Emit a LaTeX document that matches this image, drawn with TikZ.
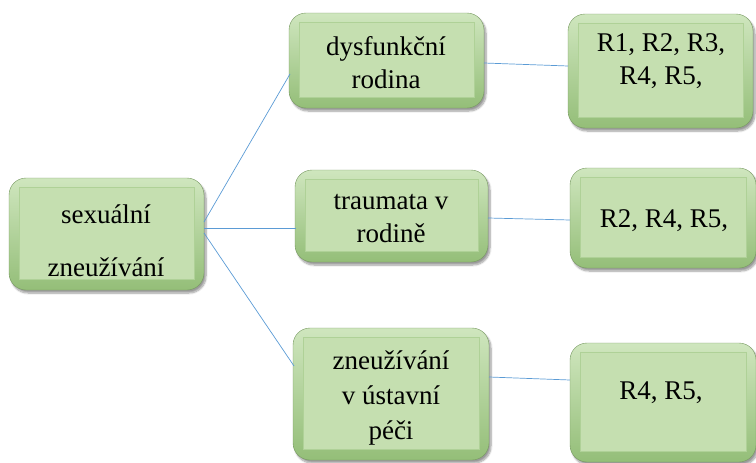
\documentclass[tikz,border=0pt]{standalone}
\usepackage{fontspec}
\setmainfont{Liberation Serif}
\usetikzlibrary{shadows.blur}
\definecolor{bevel}{HTML}{94BE78}
\definecolor{bevellight}{HTML}{CFE6BE}
\definecolor{face}{HTML}{C5DFB0}
\definecolor{faceline}{HTML}{AFD197}
\definecolor{link}{HTML}{5B9BD5}
\tikzset{
  gbox/.style={rounded corners=17pt, draw=bevel!80!black, line width=0.4pt,
    top color=bevellight, bottom color=bevel,
    blur shadow={shadow xshift=2pt, shadow yshift=-3pt, shadow blur steps=8, shadow opacity=40}},
  facebox/.style={fill=face, draw=faceline, line width=0.8pt},
  lbl/.style={font=\fontsize{27}{33}\selectfont, align=center, text=black},
  link/.style={draw=link, line width=0.7pt}
}
\newcommand{\gbox}[5]{% name, x1, y1, x2, y2
  \path[gbox] (#2,#3) rectangle (#4,#5);
  \path[facebox] (#2+10,#3+9) rectangle (#4-10,#5-11);
  \coordinate (#1-w) at (#2,{(#3+#5)/2});
  \coordinate (#1-e) at (#4,{(#3+#5)/2});
  \coordinate (#1) at ({(#2+#4)/2},{(#3+#5)/2});
}
\begin{document}
\begin{tikzpicture}[x=1pt,y=-1pt]
\useasboundingbox (0,0) rectangle (756,463);
% boxes
\gbox{root}{9}{178}{204}{290}
\gbox{dys}{289}{13}{484}{108}
\gbox{tra}{295}{170}{488}{262}
\gbox{ust}{293}{328}{489}{460}
\gbox{ra}{568}{14}{753}{128}
\gbox{rb}{570}{168}{756}{268}
\gbox{rc}{570}{343}{756}{462}
% labels
\node[lbl] (t-root1) at (106,214) {sexuální};
\node[lbl] (t-root2) at (106,267) {zneužívání};
\node[lbl] (t-dys) at (386,63) {dysfunkční\\rodina};
\node[lbl] (t-tra) at (391,219) {traumata v\\rodině};
\node[lbl] (t-ust) at (391,398) {zneužívání\\[2pt]v ústavní\\[2pt]péči};
\node[lbl] (t-ra) at (661,61) {R1, R2, R3,\\R4, R5,};
\node[lbl] (t-rb) at (664,221) {R2, R4, R5,};
\node[lbl] (t-rc) at (661,393) {R4, R5,};
% connectors
\coordinate (r1) at (204,222);
\coordinate (r2) at (204,228);
\coordinate (r3) at (204,233);
\coordinate (d1) at (290,74);
\coordinate (d2) at (296,228);
\coordinate (d3) at (294,366);
\draw[link] (r1) -- (d1);
\draw[link] (r2) -- (d2);
\draw[link] (r3) -- (d3);
\coordinate (e1) at (484,63);
\coordinate (e2) at (488,218);
\coordinate (e3) at (489,377);
\coordinate (f1) at (568,66);
\coordinate (f2) at (570,220);
\coordinate (f3) at (570,380);
\draw[link] (e1) -- (f1);
\draw[link] (e2) -- (f2);
\draw[link] (e3) -- (f3);
\end{tikzpicture}
\end{document}
